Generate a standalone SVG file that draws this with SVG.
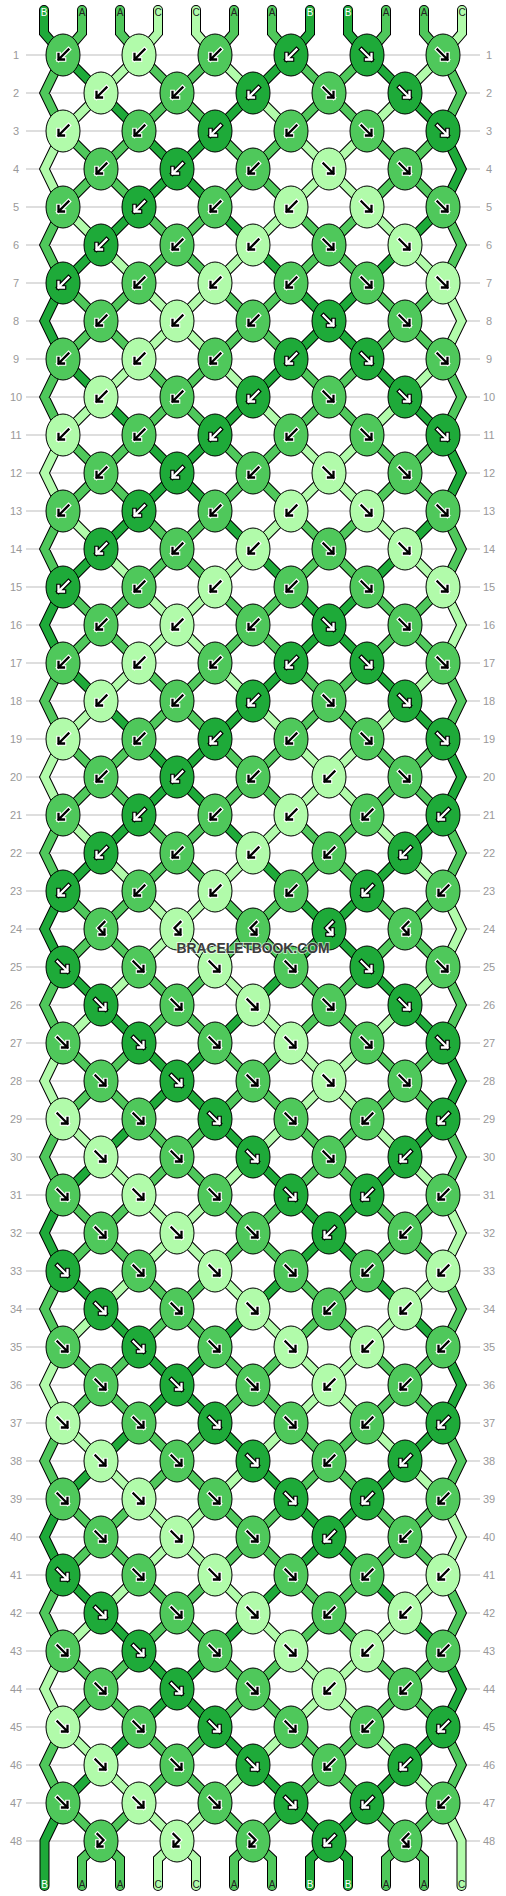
<svg xmlns="http://www.w3.org/2000/svg" xmlns:xlink="http://www.w3.org/1999/xlink" width="506" height="1896" viewBox="0 0 506 1896">
<style>
.num{font-family:"Liberation Sans",Arial,sans-serif;font-size:11px;fill:#999;text-anchor:middle}
.lbl{font-family:"Liberation Sans",Arial,sans-serif;font-size:10px;text-anchor:middle}
.o{fill:none;stroke:#000;stroke-width:10;stroke-linejoin:miter;stroke-linecap:round}
.tA,.tB,.tC{fill:none;stroke-width:8;stroke-linejoin:miter;stroke-linecap:round}
.tA{stroke:#4fc85b}.tB{stroke:#1eaa39}.tC{stroke:#b1fbaa}
.kA{fill:#4fc85b}.kB{fill:#1eaa39}.kC{fill:#b1fbaa}
.wo,.bo,.bi,.wi{fill:none;stroke-linecap:square;stroke-linejoin:miter}
.wo{stroke:#fff;stroke-width:4.6}.bo{stroke:#000;stroke-width:4.6}
.bi{stroke:#000;stroke-width:2.3}.wi{stroke:#fff;stroke-width:2.3}
</style>
<defs>
<ellipse id="e" rx="17" ry="21" stroke="#000" stroke-width="1"/>
<path id="pL" d="M5.5-5.5L-4.5 4.5M-4.5-1V4.5H1"/>
<path id="pR" d="M-5.5-5.5L4.5 4.5M4.5-1V4.5H-1"/>
<path id="pH" d="M3.5-7L-2.5-1L3.5 5.5M3.5 0.5V5.5H-1.5"/>
<path id="pJ" d="M-3.5-7L2.5-1L-3.5 5.5M-3.5 0.5V5.5H1.5"/>
<g id="AL"><use href="#e" class="kA"/><use href="#pL" class="wo"/><use href="#pL" class="bi"/></g>
<g id="AR"><use href="#e" class="kA"/><use href="#pR" class="wo"/><use href="#pR" class="bi"/></g>
<g id="AH"><use href="#e" class="kA"/><use href="#pH" class="wo"/><use href="#pH" class="bi"/></g>
<g id="AJ"><use href="#e" class="kA"/><use href="#pJ" class="wo"/><use href="#pJ" class="bi"/></g>
<g id="CL"><use href="#e" class="kC"/><use href="#pL" class="wo"/><use href="#pL" class="bi"/></g>
<g id="CR"><use href="#e" class="kC"/><use href="#pR" class="wo"/><use href="#pR" class="bi"/></g>
<g id="CH"><use href="#e" class="kC"/><use href="#pH" class="wo"/><use href="#pH" class="bi"/></g>
<g id="CJ"><use href="#e" class="kC"/><use href="#pJ" class="wo"/><use href="#pJ" class="bi"/></g>
<g id="BL"><use href="#e" class="kB"/><use href="#pL" class="bo"/><use href="#pL" class="wi"/></g>
<g id="BR"><use href="#e" class="kB"/><use href="#pR" class="bo"/><use href="#pR" class="wi"/></g>
<g id="BH"><use href="#e" class="kB"/><use href="#pH" class="bo"/><use href="#pH" class="wi"/></g>
<path id="a16" d="M139 55L177 93M215 55L177 93M291 55L329 93M367 55L329 93M177 93L139 131M177 93L215 131M329 93L291 131M329 93L367 131M63 131L101 169M139 131L101 169M215 131L253 169M291 131L253 169M367 131L405 169M443 131L405 169M101 169L63 207M101 169L139 207M253 169L215 207M253 169L291 207M405 169L367 207M405 169L443 207M139 207L177 245M215 207L177 245M291 207L329 245M367 207L329 245M177 245L139 283M177 245L215 283M329 245L291 283M329 245L367 283M63 283L101 321M139 283L101 321M215 283L253 321M291 283L253 321M367 283L405 321M443 283L405 321M63 55L44.5 93L63 131M63 207L44.5 245L63 283M443 55L461.5 93L443 131M443 207L461.5 245L443 283"/>
<path id="b16" d="M63 55L101 93M291 55L253 93M367 55L405 93M101 93L139 131M253 93L215 131M405 93L443 131M139 131L177 169M215 131L177 169M177 169L139 207M177 169L215 207M139 207L101 245M215 207L253 245M443 207L405 245M101 245L63 283M253 245L291 283M405 245L367 283M291 283L329 321M367 283L329 321M443 131L461.5 169L443 207"/>
<path id="c16" d="M139 55L101 93M215 55L253 93M443 55L405 93M101 93L63 131M253 93L291 131M405 93L367 131M291 131L329 169M367 131L329 169M329 169L291 207M329 169L367 207M63 207L101 245M291 207L253 245M367 207L405 245M101 245L139 283M253 245L215 283M405 245L443 283M139 283L177 321M215 283L177 321M63 131L44.5 169L63 207"/>
<path id="a8" d="M101 321L63 359M101 321L139 359M253 321L215 359M253 321L291 359M405 321L367 359M405 321L443 359"/>
<path id="b8" d="M329 321L291 359M329 321L367 359M63 283L44.5 321L63 359"/>
<path id="c8" d="M177 321L139 359M177 321L215 359M443 283L461.5 321L443 359"/>
<g id="g16"><use href="#a16" class="o"/><use href="#b16" class="o"/><use href="#c16" class="o"/><use href="#a16" class="tA"/><use href="#b16" class="tB"/><use href="#c16" class="tC"/></g>
<g id="g8"><use href="#a8" class="o"/><use href="#b8" class="o"/><use href="#c8" class="o"/><use href="#a8" class="tA"/><use href="#b8" class="tB"/><use href="#c8" class="tC"/></g>
<path id="aE" d="M82 10V33L63 55M120 10V33L139 55M234 10V33L215 55M272 10V33L291 55M386 10V33L367 55M424 10V33L443 55M101 1841L82 1859V1886M101 1841L120 1859V1886M253 1841L234 1859V1886M253 1841L272 1859V1886M405 1841L386 1859V1886M405 1841L424 1859V1886"/>
<path id="bE" d="M44 10V33L63 55M310 10V33L291 55M348 10V33L367 55M329 1841L310 1859V1886M329 1841L348 1859V1886M63 1803L44.5 1841V1886"/>
<path id="cE" d="M158 10V33L139 55M196 10V33L215 55M462 10V33L443 55M177 1841L158 1859V1886M177 1841L196 1859V1886M443 1803L461.5 1841V1886"/>
</defs>
<rect width="506" height="1896" fill="#fff"/>
<g id="grid">
<path d="M26 55H480M26 93H480M26 131H480M26 169H480M26 207H480M26 245H480M26 283H480M26 321H480M26 359H480M26 397H480M26 435H480M26 473H480M26 511H480M26 549H480M26 587H480M26 625H480M26 663H480M26 701H480M26 739H480M26 777H480M26 815H480M26 853H480M26 891H480M26 929H480M26 967H480M26 1005H480M26 1043H480M26 1081H480M26 1119H480M26 1157H480M26 1195H480M26 1233H480M26 1271H480M26 1309H480M26 1347H480M26 1385H480M26 1423H480M26 1461H480M26 1499H480M26 1537H480M26 1575H480M26 1613H480M26 1651H480M26 1689H480M26 1727H480M26 1765H480M26 1803H480M26 1841H480" stroke="#bdbdbd" stroke-width="1" fill="none"/>
</g>
<g id="rownumbers">
<text class="num" x="16" y="59">1</text><text class="num" x="489" y="59">1</text>
<text class="num" x="16" y="97">2</text><text class="num" x="489" y="97">2</text>
<text class="num" x="16" y="135">3</text><text class="num" x="489" y="135">3</text>
<text class="num" x="16" y="173">4</text><text class="num" x="489" y="173">4</text>
<text class="num" x="16" y="211">5</text><text class="num" x="489" y="211">5</text>
<text class="num" x="16" y="249">6</text><text class="num" x="489" y="249">6</text>
<text class="num" x="16" y="287">7</text><text class="num" x="489" y="287">7</text>
<text class="num" x="16" y="325">8</text><text class="num" x="489" y="325">8</text>
<text class="num" x="16" y="363">9</text><text class="num" x="489" y="363">9</text>
<text class="num" x="16" y="401">10</text><text class="num" x="489" y="401">10</text>
<text class="num" x="16" y="439">11</text><text class="num" x="489" y="439">11</text>
<text class="num" x="16" y="477">12</text><text class="num" x="489" y="477">12</text>
<text class="num" x="16" y="515">13</text><text class="num" x="489" y="515">13</text>
<text class="num" x="16" y="553">14</text><text class="num" x="489" y="553">14</text>
<text class="num" x="16" y="591">15</text><text class="num" x="489" y="591">15</text>
<text class="num" x="16" y="629">16</text><text class="num" x="489" y="629">16</text>
<text class="num" x="16" y="667">17</text><text class="num" x="489" y="667">17</text>
<text class="num" x="16" y="705">18</text><text class="num" x="489" y="705">18</text>
<text class="num" x="16" y="743">19</text><text class="num" x="489" y="743">19</text>
<text class="num" x="16" y="781">20</text><text class="num" x="489" y="781">20</text>
<text class="num" x="16" y="819">21</text><text class="num" x="489" y="819">21</text>
<text class="num" x="16" y="857">22</text><text class="num" x="489" y="857">22</text>
<text class="num" x="16" y="895">23</text><text class="num" x="489" y="895">23</text>
<text class="num" x="16" y="933">24</text><text class="num" x="489" y="933">24</text>
<text class="num" x="16" y="971">25</text><text class="num" x="489" y="971">25</text>
<text class="num" x="16" y="1009">26</text><text class="num" x="489" y="1009">26</text>
<text class="num" x="16" y="1047">27</text><text class="num" x="489" y="1047">27</text>
<text class="num" x="16" y="1085">28</text><text class="num" x="489" y="1085">28</text>
<text class="num" x="16" y="1123">29</text><text class="num" x="489" y="1123">29</text>
<text class="num" x="16" y="1161">30</text><text class="num" x="489" y="1161">30</text>
<text class="num" x="16" y="1199">31</text><text class="num" x="489" y="1199">31</text>
<text class="num" x="16" y="1237">32</text><text class="num" x="489" y="1237">32</text>
<text class="num" x="16" y="1275">33</text><text class="num" x="489" y="1275">33</text>
<text class="num" x="16" y="1313">34</text><text class="num" x="489" y="1313">34</text>
<text class="num" x="16" y="1351">35</text><text class="num" x="489" y="1351">35</text>
<text class="num" x="16" y="1389">36</text><text class="num" x="489" y="1389">36</text>
<text class="num" x="16" y="1427">37</text><text class="num" x="489" y="1427">37</text>
<text class="num" x="16" y="1465">38</text><text class="num" x="489" y="1465">38</text>
<text class="num" x="16" y="1503">39</text><text class="num" x="489" y="1503">39</text>
<text class="num" x="16" y="1541">40</text><text class="num" x="489" y="1541">40</text>
<text class="num" x="16" y="1579">41</text><text class="num" x="489" y="1579">41</text>
<text class="num" x="16" y="1617">42</text><text class="num" x="489" y="1617">42</text>
<text class="num" x="16" y="1655">43</text><text class="num" x="489" y="1655">43</text>
<text class="num" x="16" y="1693">44</text><text class="num" x="489" y="1693">44</text>
<text class="num" x="16" y="1731">45</text><text class="num" x="489" y="1731">45</text>
<text class="num" x="16" y="1769">46</text><text class="num" x="489" y="1769">46</text>
<text class="num" x="16" y="1807">47</text><text class="num" x="489" y="1807">47</text>
<text class="num" x="16" y="1845">48</text><text class="num" x="489" y="1845">48</text>
</g>
<g id="connectors">
<use href="#g16"/><use href="#g8"/>
<use href="#g16" y="304"/><use href="#g8" y="304"/>
<use href="#g16" y="608"/><use href="#g8" y="608"/>
<use href="#g16" y="912"/><use href="#g8" y="912"/>
<use href="#g16" y="1216"/><use href="#g8" y="1216"/>
<use href="#g16" y="1520"/>
<use href="#aE" class="o"/><use href="#bE" class="o"/><use href="#cE" class="o"/>
<use href="#aE" class="tA"/><use href="#bE" class="tB"/><use href="#cE" class="tC"/>
</g>
<g id="labels">
<text class="lbl" x="44" y="15.5" fill="#fff">B</text><text class="lbl" x="82" y="15.5" fill="#222">A</text><text class="lbl" x="120" y="15.5" fill="#222">A</text><text class="lbl" x="158" y="15.5" fill="#222">C</text><text class="lbl" x="196" y="15.5" fill="#222">C</text><text class="lbl" x="234" y="15.5" fill="#222">A</text><text class="lbl" x="272" y="15.5" fill="#222">A</text><text class="lbl" x="310" y="15.5" fill="#fff">B</text><text class="lbl" x="348" y="15.5" fill="#fff">B</text><text class="lbl" x="386" y="15.5" fill="#222">A</text><text class="lbl" x="424" y="15.5" fill="#222">A</text><text class="lbl" x="462" y="15.5" fill="#222">C</text>
<text class="lbl" x="44.5" y="1888" fill="#fff">B</text><text class="lbl" x="82" y="1888" fill="#222">A</text><text class="lbl" x="120" y="1888" fill="#222">A</text><text class="lbl" x="158" y="1888" fill="#222">C</text><text class="lbl" x="196" y="1888" fill="#222">C</text><text class="lbl" x="234" y="1888" fill="#222">A</text><text class="lbl" x="272" y="1888" fill="#222">A</text><text class="lbl" x="310" y="1888" fill="#fff">B</text><text class="lbl" x="348" y="1888" fill="#fff">B</text><text class="lbl" x="386" y="1888" fill="#222">A</text><text class="lbl" x="424" y="1888" fill="#222">A</text><text class="lbl" x="461.5" y="1888" fill="#222">C</text>
</g>
<g id="knots">
<g id="k1-1"><use href="#AL" x="63" y="55"/></g><g id="k1-2"><use href="#CL" x="139" y="55"/></g><g id="k1-3"><use href="#AL" x="215" y="55"/></g><g id="k1-4"><use href="#BL" x="291" y="55"/></g><g id="k1-5"><use href="#BR" x="367" y="55"/></g><g id="k1-6"><use href="#AR" x="443" y="55"/></g>
<g id="k2-1"><use href="#CL" x="101" y="93"/></g><g id="k2-2"><use href="#AL" x="177" y="93"/></g><g id="k2-3"><use href="#BL" x="253" y="93"/></g><g id="k2-4"><use href="#AR" x="329" y="93"/></g><g id="k2-5"><use href="#BR" x="405" y="93"/></g>
<g id="k3-1"><use href="#CL" x="63" y="131"/></g><g id="k3-2"><use href="#AL" x="139" y="131"/></g><g id="k3-3"><use href="#BL" x="215" y="131"/></g><g id="k3-4"><use href="#AL" x="291" y="131"/></g><g id="k3-5"><use href="#AR" x="367" y="131"/></g><g id="k3-6"><use href="#BR" x="443" y="131"/></g>
<g id="k4-1"><use href="#AL" x="101" y="169"/></g><g id="k4-2"><use href="#BL" x="177" y="169"/></g><g id="k4-3"><use href="#AL" x="253" y="169"/></g><g id="k4-4"><use href="#CR" x="329" y="169"/></g><g id="k4-5"><use href="#AR" x="405" y="169"/></g>
<g id="k5-1"><use href="#AL" x="63" y="207"/></g><g id="k5-2"><use href="#BL" x="139" y="207"/></g><g id="k5-3"><use href="#AL" x="215" y="207"/></g><g id="k5-4"><use href="#CL" x="291" y="207"/></g><g id="k5-5"><use href="#CR" x="367" y="207"/></g><g id="k5-6"><use href="#AR" x="443" y="207"/></g>
<g id="k6-1"><use href="#BL" x="101" y="245"/></g><g id="k6-2"><use href="#AL" x="177" y="245"/></g><g id="k6-3"><use href="#CL" x="253" y="245"/></g><g id="k6-4"><use href="#AR" x="329" y="245"/></g><g id="k6-5"><use href="#CR" x="405" y="245"/></g>
<g id="k7-1"><use href="#BL" x="63" y="283"/></g><g id="k7-2"><use href="#AL" x="139" y="283"/></g><g id="k7-3"><use href="#CL" x="215" y="283"/></g><g id="k7-4"><use href="#AL" x="291" y="283"/></g><g id="k7-5"><use href="#AR" x="367" y="283"/></g><g id="k7-6"><use href="#CR" x="443" y="283"/></g>
<g id="k8-1"><use href="#AL" x="101" y="321"/></g><g id="k8-2"><use href="#CL" x="177" y="321"/></g><g id="k8-3"><use href="#AL" x="253" y="321"/></g><g id="k8-4"><use href="#BR" x="329" y="321"/></g><g id="k8-5"><use href="#AR" x="405" y="321"/></g>
<g id="k9-1"><use href="#AL" x="63" y="359"/></g><g id="k9-2"><use href="#CL" x="139" y="359"/></g><g id="k9-3"><use href="#AL" x="215" y="359"/></g><g id="k9-4"><use href="#BL" x="291" y="359"/></g><g id="k9-5"><use href="#BR" x="367" y="359"/></g><g id="k9-6"><use href="#AR" x="443" y="359"/></g>
<g id="k10-1"><use href="#CL" x="101" y="397"/></g><g id="k10-2"><use href="#AL" x="177" y="397"/></g><g id="k10-3"><use href="#BL" x="253" y="397"/></g><g id="k10-4"><use href="#AR" x="329" y="397"/></g><g id="k10-5"><use href="#BR" x="405" y="397"/></g>
<g id="k11-1"><use href="#CL" x="63" y="435"/></g><g id="k11-2"><use href="#AL" x="139" y="435"/></g><g id="k11-3"><use href="#BL" x="215" y="435"/></g><g id="k11-4"><use href="#AL" x="291" y="435"/></g><g id="k11-5"><use href="#AR" x="367" y="435"/></g><g id="k11-6"><use href="#BR" x="443" y="435"/></g>
<g id="k12-1"><use href="#AL" x="101" y="473"/></g><g id="k12-2"><use href="#BL" x="177" y="473"/></g><g id="k12-3"><use href="#AL" x="253" y="473"/></g><g id="k12-4"><use href="#CR" x="329" y="473"/></g><g id="k12-5"><use href="#AR" x="405" y="473"/></g>
<g id="k13-1"><use href="#AL" x="63" y="511"/></g><g id="k13-2"><use href="#BL" x="139" y="511"/></g><g id="k13-3"><use href="#AL" x="215" y="511"/></g><g id="k13-4"><use href="#CL" x="291" y="511"/></g><g id="k13-5"><use href="#CR" x="367" y="511"/></g><g id="k13-6"><use href="#AR" x="443" y="511"/></g>
<g id="k14-1"><use href="#BL" x="101" y="549"/></g><g id="k14-2"><use href="#AL" x="177" y="549"/></g><g id="k14-3"><use href="#CL" x="253" y="549"/></g><g id="k14-4"><use href="#AR" x="329" y="549"/></g><g id="k14-5"><use href="#CR" x="405" y="549"/></g>
<g id="k15-1"><use href="#BL" x="63" y="587"/></g><g id="k15-2"><use href="#AL" x="139" y="587"/></g><g id="k15-3"><use href="#CL" x="215" y="587"/></g><g id="k15-4"><use href="#AL" x="291" y="587"/></g><g id="k15-5"><use href="#AR" x="367" y="587"/></g><g id="k15-6"><use href="#CR" x="443" y="587"/></g>
<g id="k16-1"><use href="#AL" x="101" y="625"/></g><g id="k16-2"><use href="#CL" x="177" y="625"/></g><g id="k16-3"><use href="#AL" x="253" y="625"/></g><g id="k16-4"><use href="#BR" x="329" y="625"/></g><g id="k16-5"><use href="#AR" x="405" y="625"/></g>
<g id="k17-1"><use href="#AL" x="63" y="663"/></g><g id="k17-2"><use href="#CL" x="139" y="663"/></g><g id="k17-3"><use href="#AL" x="215" y="663"/></g><g id="k17-4"><use href="#BL" x="291" y="663"/></g><g id="k17-5"><use href="#BR" x="367" y="663"/></g><g id="k17-6"><use href="#AR" x="443" y="663"/></g>
<g id="k18-1"><use href="#CL" x="101" y="701"/></g><g id="k18-2"><use href="#AL" x="177" y="701"/></g><g id="k18-3"><use href="#BL" x="253" y="701"/></g><g id="k18-4"><use href="#AR" x="329" y="701"/></g><g id="k18-5"><use href="#BR" x="405" y="701"/></g>
<g id="k19-1"><use href="#CL" x="63" y="739"/></g><g id="k19-2"><use href="#AL" x="139" y="739"/></g><g id="k19-3"><use href="#BL" x="215" y="739"/></g><g id="k19-4"><use href="#AL" x="291" y="739"/></g><g id="k19-5"><use href="#AR" x="367" y="739"/></g><g id="k19-6"><use href="#BR" x="443" y="739"/></g>
<g id="k20-1"><use href="#AL" x="101" y="777"/></g><g id="k20-2"><use href="#BL" x="177" y="777"/></g><g id="k20-3"><use href="#AL" x="253" y="777"/></g><g id="k20-4"><use href="#CL" x="329" y="777"/></g><g id="k20-5"><use href="#AR" x="405" y="777"/></g>
<g id="k21-1"><use href="#AL" x="63" y="815"/></g><g id="k21-2"><use href="#BL" x="139" y="815"/></g><g id="k21-3"><use href="#AL" x="215" y="815"/></g><g id="k21-4"><use href="#CL" x="291" y="815"/></g><g id="k21-5"><use href="#AL" x="367" y="815"/></g><g id="k21-6"><use href="#BL" x="443" y="815"/></g>
<g id="k22-1"><use href="#BL" x="101" y="853"/></g><g id="k22-2"><use href="#AL" x="177" y="853"/></g><g id="k22-3"><use href="#CL" x="253" y="853"/></g><g id="k22-4"><use href="#AL" x="329" y="853"/></g><g id="k22-5"><use href="#BL" x="405" y="853"/></g>
<g id="k23-1"><use href="#BL" x="63" y="891"/></g><g id="k23-2"><use href="#AL" x="139" y="891"/></g><g id="k23-3"><use href="#CL" x="215" y="891"/></g><g id="k23-4"><use href="#AL" x="291" y="891"/></g><g id="k23-5"><use href="#BL" x="367" y="891"/></g><g id="k23-6"><use href="#AL" x="443" y="891"/></g>
<g id="k24-1"><use href="#AH" x="101" y="929"/></g><g id="k24-2"><use href="#CH" x="177" y="929"/></g><g id="k24-3"><use href="#AH" x="253" y="929"/></g><g id="k24-4"><use href="#BH" x="329" y="929"/></g><g id="k24-5"><use href="#AH" x="405" y="929"/></g>
<g id="k25-1"><use href="#BR" x="63" y="967"/></g><g id="k25-2"><use href="#AR" x="139" y="967"/></g><g id="k25-3"><use href="#CR" x="215" y="967"/></g><g id="k25-4"><use href="#AR" x="291" y="967"/></g><g id="k25-5"><use href="#BR" x="367" y="967"/></g><g id="k25-6"><use href="#AR" x="443" y="967"/></g>
<g id="k26-1"><use href="#BR" x="101" y="1005"/></g><g id="k26-2"><use href="#AR" x="177" y="1005"/></g><g id="k26-3"><use href="#CR" x="253" y="1005"/></g><g id="k26-4"><use href="#AR" x="329" y="1005"/></g><g id="k26-5"><use href="#BR" x="405" y="1005"/></g>
<g id="k27-1"><use href="#AR" x="63" y="1043"/></g><g id="k27-2"><use href="#BR" x="139" y="1043"/></g><g id="k27-3"><use href="#AR" x="215" y="1043"/></g><g id="k27-4"><use href="#CR" x="291" y="1043"/></g><g id="k27-5"><use href="#AR" x="367" y="1043"/></g><g id="k27-6"><use href="#BR" x="443" y="1043"/></g>
<g id="k28-1"><use href="#AR" x="101" y="1081"/></g><g id="k28-2"><use href="#BR" x="177" y="1081"/></g><g id="k28-3"><use href="#AR" x="253" y="1081"/></g><g id="k28-4"><use href="#CR" x="329" y="1081"/></g><g id="k28-5"><use href="#AR" x="405" y="1081"/></g>
<g id="k29-1"><use href="#CR" x="63" y="1119"/></g><g id="k29-2"><use href="#AR" x="139" y="1119"/></g><g id="k29-3"><use href="#BR" x="215" y="1119"/></g><g id="k29-4"><use href="#AR" x="291" y="1119"/></g><g id="k29-5"><use href="#AL" x="367" y="1119"/></g><g id="k29-6"><use href="#BL" x="443" y="1119"/></g>
<g id="k30-1"><use href="#CR" x="101" y="1157"/></g><g id="k30-2"><use href="#AR" x="177" y="1157"/></g><g id="k30-3"><use href="#BR" x="253" y="1157"/></g><g id="k30-4"><use href="#AR" x="329" y="1157"/></g><g id="k30-5"><use href="#BL" x="405" y="1157"/></g>
<g id="k31-1"><use href="#AR" x="63" y="1195"/></g><g id="k31-2"><use href="#CR" x="139" y="1195"/></g><g id="k31-3"><use href="#AR" x="215" y="1195"/></g><g id="k31-4"><use href="#BR" x="291" y="1195"/></g><g id="k31-5"><use href="#BL" x="367" y="1195"/></g><g id="k31-6"><use href="#AL" x="443" y="1195"/></g>
<g id="k32-1"><use href="#AR" x="101" y="1233"/></g><g id="k32-2"><use href="#CR" x="177" y="1233"/></g><g id="k32-3"><use href="#AR" x="253" y="1233"/></g><g id="k32-4"><use href="#BL" x="329" y="1233"/></g><g id="k32-5"><use href="#AL" x="405" y="1233"/></g>
<g id="k33-1"><use href="#BR" x="63" y="1271"/></g><g id="k33-2"><use href="#AR" x="139" y="1271"/></g><g id="k33-3"><use href="#CR" x="215" y="1271"/></g><g id="k33-4"><use href="#AR" x="291" y="1271"/></g><g id="k33-5"><use href="#AL" x="367" y="1271"/></g><g id="k33-6"><use href="#CL" x="443" y="1271"/></g>
<g id="k34-1"><use href="#BR" x="101" y="1309"/></g><g id="k34-2"><use href="#AR" x="177" y="1309"/></g><g id="k34-3"><use href="#CR" x="253" y="1309"/></g><g id="k34-4"><use href="#AL" x="329" y="1309"/></g><g id="k34-5"><use href="#CL" x="405" y="1309"/></g>
<g id="k35-1"><use href="#AR" x="63" y="1347"/></g><g id="k35-2"><use href="#BR" x="139" y="1347"/></g><g id="k35-3"><use href="#AR" x="215" y="1347"/></g><g id="k35-4"><use href="#CR" x="291" y="1347"/></g><g id="k35-5"><use href="#CL" x="367" y="1347"/></g><g id="k35-6"><use href="#AL" x="443" y="1347"/></g>
<g id="k36-1"><use href="#AR" x="101" y="1385"/></g><g id="k36-2"><use href="#BR" x="177" y="1385"/></g><g id="k36-3"><use href="#AR" x="253" y="1385"/></g><g id="k36-4"><use href="#CL" x="329" y="1385"/></g><g id="k36-5"><use href="#AL" x="405" y="1385"/></g>
<g id="k37-1"><use href="#CR" x="63" y="1423"/></g><g id="k37-2"><use href="#AR" x="139" y="1423"/></g><g id="k37-3"><use href="#BR" x="215" y="1423"/></g><g id="k37-4"><use href="#AR" x="291" y="1423"/></g><g id="k37-5"><use href="#AL" x="367" y="1423"/></g><g id="k37-6"><use href="#BL" x="443" y="1423"/></g>
<g id="k38-1"><use href="#CR" x="101" y="1461"/></g><g id="k38-2"><use href="#AR" x="177" y="1461"/></g><g id="k38-3"><use href="#BR" x="253" y="1461"/></g><g id="k38-4"><use href="#AL" x="329" y="1461"/></g><g id="k38-5"><use href="#BL" x="405" y="1461"/></g>
<g id="k39-1"><use href="#AR" x="63" y="1499"/></g><g id="k39-2"><use href="#CR" x="139" y="1499"/></g><g id="k39-3"><use href="#AR" x="215" y="1499"/></g><g id="k39-4"><use href="#BR" x="291" y="1499"/></g><g id="k39-5"><use href="#BL" x="367" y="1499"/></g><g id="k39-6"><use href="#AL" x="443" y="1499"/></g>
<g id="k40-1"><use href="#AR" x="101" y="1537"/></g><g id="k40-2"><use href="#CR" x="177" y="1537"/></g><g id="k40-3"><use href="#AR" x="253" y="1537"/></g><g id="k40-4"><use href="#BL" x="329" y="1537"/></g><g id="k40-5"><use href="#AL" x="405" y="1537"/></g>
<g id="k41-1"><use href="#BR" x="63" y="1575"/></g><g id="k41-2"><use href="#AR" x="139" y="1575"/></g><g id="k41-3"><use href="#CR" x="215" y="1575"/></g><g id="k41-4"><use href="#AR" x="291" y="1575"/></g><g id="k41-5"><use href="#AL" x="367" y="1575"/></g><g id="k41-6"><use href="#CL" x="443" y="1575"/></g>
<g id="k42-1"><use href="#BR" x="101" y="1613"/></g><g id="k42-2"><use href="#AR" x="177" y="1613"/></g><g id="k42-3"><use href="#CR" x="253" y="1613"/></g><g id="k42-4"><use href="#AL" x="329" y="1613"/></g><g id="k42-5"><use href="#CL" x="405" y="1613"/></g>
<g id="k43-1"><use href="#AR" x="63" y="1651"/></g><g id="k43-2"><use href="#BR" x="139" y="1651"/></g><g id="k43-3"><use href="#AR" x="215" y="1651"/></g><g id="k43-4"><use href="#CR" x="291" y="1651"/></g><g id="k43-5"><use href="#CL" x="367" y="1651"/></g><g id="k43-6"><use href="#AL" x="443" y="1651"/></g>
<g id="k44-1"><use href="#AR" x="101" y="1689"/></g><g id="k44-2"><use href="#BR" x="177" y="1689"/></g><g id="k44-3"><use href="#AR" x="253" y="1689"/></g><g id="k44-4"><use href="#CL" x="329" y="1689"/></g><g id="k44-5"><use href="#AL" x="405" y="1689"/></g>
<g id="k45-1"><use href="#CR" x="63" y="1727"/></g><g id="k45-2"><use href="#AR" x="139" y="1727"/></g><g id="k45-3"><use href="#BR" x="215" y="1727"/></g><g id="k45-4"><use href="#AR" x="291" y="1727"/></g><g id="k45-5"><use href="#AL" x="367" y="1727"/></g><g id="k45-6"><use href="#BL" x="443" y="1727"/></g>
<g id="k46-1"><use href="#CR" x="101" y="1765"/></g><g id="k46-2"><use href="#AR" x="177" y="1765"/></g><g id="k46-3"><use href="#BR" x="253" y="1765"/></g><g id="k46-4"><use href="#AL" x="329" y="1765"/></g><g id="k46-5"><use href="#BL" x="405" y="1765"/></g>
<g id="k47-1"><use href="#AR" x="63" y="1803"/></g><g id="k47-2"><use href="#CR" x="139" y="1803"/></g><g id="k47-3"><use href="#AR" x="215" y="1803"/></g><g id="k47-4"><use href="#BR" x="291" y="1803"/></g><g id="k47-5"><use href="#BL" x="367" y="1803"/></g><g id="k47-6"><use href="#AL" x="443" y="1803"/></g>
<g id="k48-1"><use href="#AJ" x="101" y="1841"/></g><g id="k48-2"><use href="#CJ" x="177" y="1841"/></g><g id="k48-3"><use href="#AJ" x="253" y="1841"/></g><g id="k48-4"><use href="#BL" x="329" y="1841"/></g><g id="k48-5"><use href="#AH" x="405" y="1841"/></g>
</g>
<g id="watermark">
<text x="253" y="953" text-anchor="middle" textLength="153" lengthAdjust="spacingAndGlyphs" font-family="Liberation Sans, Arial, sans-serif" font-size="15" font-weight="bold" fill="#3c3c3c" stroke="#ffffff" stroke-opacity="0.6" stroke-width="2" paint-order="stroke">BRACELETBOOK.COM</text>
</g>
</svg>
